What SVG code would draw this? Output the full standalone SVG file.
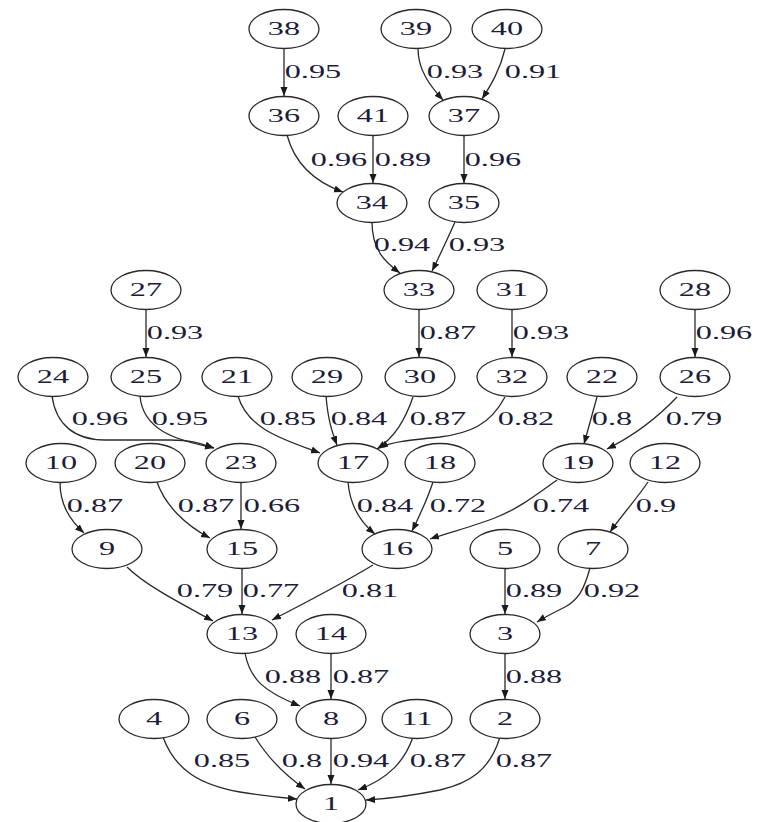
<svg xmlns="http://www.w3.org/2000/svg" width="765" height="822" viewBox="0 0 765 822">
  <style>
    ellipse { fill: #ffffff; stroke: #2a2a2a; stroke-width: 1.3; }
    .edge { fill: none; stroke: #2a2a2a; stroke-width: 1.3; marker-end: url(#arrow); }
    text { font-family: "Liberation Serif", "Times New Roman", serif; font-size: 19px; fill: #1c1c38; text-anchor: middle;
           transform-box: fill-box; transform-origin: center; transform: scaleX(1.7); }
  </style>
  <defs>
    <marker id="arrow" markerUnits="userSpaceOnUse" markerWidth="10" markerHeight="8" refX="9" refY="3.5" orient="auto">
      <path d="M0,0 L9,3.5 L0,7 z" fill="#1a1a1a"/>
    </marker>
  </defs>
  <rect width="765" height="822" fill="#ffffff"/>

  <g id="connectors">
    <!-- rank 0 to 1 -->
    <path class="edge" d="M284,48.5 V96"/>
    <path class="edge" d="M418,48.5 C418,70 430,86 443,100"/>
    <path class="edge" d="M505,49 C500,70 491,85 482,99"/>
    <!-- rank 1 to 2 -->
    <path class="edge" d="M287,135 C295,165 315,182 343,192"/>
    <path class="edge" d="M373,135.5 V183"/>
    <path class="edge" d="M464,135.5 V183"/>
    <!-- rank 2 to 3 -->
    <path class="edge" d="M372,222 C372,250 385,262 400,273"/>
    <path class="edge" d="M455,222 C447,240 440,255 432,271"/>
    <!-- rank 3 to 4 -->
    <path class="edge" d="M146,309.5 V357"/>
    <path class="edge" d="M419,309.5 V357"/>
    <path class="edge" d="M512,309.5 V357"/>
    <path class="edge" d="M695,309.5 V357"/>
    <!-- rank 4 to 5 -->
    <path class="edge" d="M52,396 C56,425 75,440 105,440 L170,440 C190,440 200,443 214,448"/>
    <path class="edge" d="M140,396 C143,430 175,440 214,448"/>
    <path class="edge" d="M238,396 C248,430 285,440 320,453"/>
    <path class="edge" d="M326,396 C328,420 332,432 337,445"/>
    <path class="edge" d="M413,397 C405,420 395,437 377,449"/>
    <path class="edge" d="M505,397 C490,425 470,433 440,437 C410,440 390,442 379,448"/>
    <path class="edge" d="M597,397 C592,415 588,430 584,444"/>
    <path class="edge" d="M677,397 C660,415 635,435 607,449"/>
    <!-- rank 5 to 6 -->
    <path class="edge" d="M60,482 C60,505 70,520 84,533"/>
    <path class="edge" d="M157,482 C165,505 185,525 210,538"/>
    <path class="edge" d="M241,482.5 V529"/>
    <path class="edge" d="M348,482 C350,505 360,522 375,534"/>
    <path class="edge" d="M433,482 C427,500 420,515 412,531"/>
    <path class="edge" d="M557,480 C540,492 520,508 497,517 C475,526 450,532 430,539"/>
    <path class="edge" d="M648,482 C638,497 622,515 610,532"/>
    <!-- rank 6 to 7 -->
    <path class="edge" d="M127,567 C145,585 180,603 213,621"/>
    <path class="edge" d="M242,568.5 V614"/>
    <path class="edge" d="M373,565 C340,585 305,603 272,620"/>
    <path class="edge" d="M505,568.5 V614"/>
    <path class="edge" d="M590,568 C584,590 578,600 565,607 C555,612 545,617 537,622"/>
    <!-- rank 7 to 8 -->
    <path class="edge" d="M245,653 C250,680 265,692 300,706"/>
    <path class="edge" d="M331,653.5 V699"/>
    <path class="edge" d="M505,653.5 V699"/>
    <!-- rank 8 to 9 -->
    <path class="edge" d="M163,737 C175,770 200,785 240,792 C265,796 285,798 297,799"/>
    <path class="edge" d="M255,737 C268,758 285,775 305,789"/>
    <path class="edge" d="M331,738.5 V784"/>
    <path class="edge" d="M413,737 C405,760 390,778 358,790"/>
    <path class="edge" d="M500,737 C490,770 470,783 440,790 C410,796 385,799 366,800"/>

    <!-- edge weights -->
    <text x="313" y="78.5">0.95</text>
    <text x="455" y="78.5">0.93</text>
    <text x="533" y="78.5">0.91</text>
    <text x="339" y="166">0.96</text>
    <text x="403" y="166">0.89</text>
    <text x="493" y="166">0.96</text>
    <text x="402" y="251.5">0.94</text>
    <text x="477" y="251.5">0.93</text>
    <text x="175" y="339">0.93</text>
    <text x="448" y="339">0.87</text>
    <text x="541" y="339">0.93</text>
    <text x="724" y="339">0.96</text>
    <text x="100" y="425.5">0.96</text>
    <text x="180" y="425.5">0.95</text>
    <text x="288" y="425.5">0.85</text>
    <text x="359" y="425.5">0.84</text>
    <text x="438" y="425.5">0.87</text>
    <text x="526" y="425.5">0.82</text>
    <text x="612" y="425.5">0.8</text>
    <text x="694" y="425.5">0.79</text>
    <text x="95" y="512.5">0.87</text>
    <text x="206" y="512.5">0.87</text>
    <text x="272" y="512.5">0.66</text>
    <text x="385" y="512.5">0.84</text>
    <text x="458" y="512.5">0.72</text>
    <text x="561" y="512.5">0.74</text>
    <text x="656" y="512.5">0.9</text>
    <text x="205" y="597.5">0.79</text>
    <text x="271" y="597.5">0.77</text>
    <text x="370" y="597.5">0.81</text>
    <text x="534" y="597.5">0.89</text>
    <text x="612" y="597.5">0.92</text>
    <text x="293" y="683">0.88</text>
    <text x="361" y="683">0.87</text>
    <text x="534" y="683">0.88</text>
    <text x="222" y="767.5">0.85</text>
    <text x="302" y="767.5">0.8</text>
    <text x="361" y="767.5">0.94</text>
    <text x="438" y="767.5">0.87</text>
    <text x="524" y="767.5">0.87</text>
  </g>

  <!-- nodes -->
  <g id="n38"><ellipse cx="284" cy="29" rx="35" ry="19.5"/><text x="284" y="35.5">38</text></g>
  <g id="n39"><ellipse cx="416" cy="29" rx="35" ry="19.5"/><text x="416" y="35.5">39</text></g>
  <g id="n40"><ellipse cx="507" cy="29" rx="35" ry="19.5"/><text x="507" y="35.5">40</text></g>

  <g id="n36"><ellipse cx="284" cy="116" rx="35" ry="19.5"/><text x="284" y="122.5">36</text></g>
  <g id="n41"><ellipse cx="373" cy="116" rx="35" ry="19.5"/><text x="373" y="122.5">41</text></g>
  <g id="n37"><ellipse cx="464" cy="116" rx="35" ry="19.5"/><text x="464" y="122.5">37</text></g>

  <g id="n34"><ellipse cx="372" cy="203" rx="35" ry="19.5"/><text x="372" y="209.5">34</text></g>
  <g id="n35"><ellipse cx="464" cy="203" rx="35" ry="19.5"/><text x="464" y="209.5">35</text></g>

  <g id="n27"><ellipse cx="146" cy="290" rx="35" ry="19.5"/><text x="146" y="296.5">27</text></g>
  <g id="n33"><ellipse cx="419" cy="290" rx="35" ry="19.5"/><text x="419" y="296.5">33</text></g>
  <g id="n31"><ellipse cx="512" cy="290" rx="35" ry="19.5"/><text x="512" y="296.5">31</text></g>
  <g id="n28"><ellipse cx="695" cy="290" rx="35" ry="19.5"/><text x="695" y="296.5">28</text></g>

  <g id="n24"><ellipse cx="53" cy="377" rx="35" ry="19.5"/><text x="53" y="383.5">24</text></g>
  <g id="n25"><ellipse cx="146" cy="377" rx="35" ry="19.5"/><text x="146" y="383.5">25</text></g>
  <g id="n21"><ellipse cx="237" cy="377" rx="35" ry="19.5"/><text x="237" y="383.5">21</text></g>
  <g id="n29"><ellipse cx="327" cy="377" rx="35" ry="19.5"/><text x="327" y="383.5">29</text></g>
  <g id="n30"><ellipse cx="420" cy="377" rx="35" ry="19.5"/><text x="420" y="383.5">30</text></g>
  <g id="n32"><ellipse cx="512" cy="377" rx="35" ry="19.5"/><text x="512" y="383.5">32</text></g>
  <g id="n22"><ellipse cx="602" cy="377" rx="35" ry="19.5"/><text x="602" y="383.5">22</text></g>
  <g id="n26"><ellipse cx="695" cy="377" rx="35" ry="19.5"/><text x="695" y="383.5">26</text></g>

  <g id="n10"><ellipse cx="61" cy="463" rx="35" ry="19.5"/><text x="61" y="469.5">10</text></g>
  <g id="n20"><ellipse cx="150" cy="463" rx="35" ry="19.5"/><text x="150" y="469.5">20</text></g>
  <g id="n23"><ellipse cx="241" cy="463" rx="35" ry="19.5"/><text x="241" y="469.5">23</text></g>
  <g id="n17"><ellipse cx="353" cy="463" rx="35" ry="19.5"/><text x="353" y="469.5">17</text></g>
  <g id="n18"><ellipse cx="440" cy="463" rx="35" ry="19.5"/><text x="440" y="469.5">18</text></g>
  <g id="n19"><ellipse cx="578" cy="463" rx="35" ry="19.5"/><text x="578" y="469.5">19</text></g>
  <g id="n12"><ellipse cx="665" cy="463" rx="35" ry="19.5"/><text x="665" y="469.5">12</text></g>

  <g id="n9"><ellipse cx="107" cy="549" rx="35" ry="19.5"/><text x="107" y="555.5">9</text></g>
  <g id="n15"><ellipse cx="242" cy="549" rx="35" ry="19.5"/><text x="242" y="555.5">15</text></g>
  <g id="n16"><ellipse cx="397" cy="549" rx="35" ry="19.5"/><text x="397" y="555.5">16</text></g>
  <g id="n5"><ellipse cx="505" cy="549" rx="35" ry="19.5"/><text x="505" y="555.5">5</text></g>
  <g id="n7"><ellipse cx="593" cy="549" rx="35" ry="19.5"/><text x="593" y="555.5">7</text></g>

  <g id="n13"><ellipse cx="242" cy="634" rx="35" ry="19.5"/><text x="242" y="640.5">13</text></g>
  <g id="n14"><ellipse cx="331" cy="634" rx="35" ry="19.5"/><text x="331" y="640.5">14</text></g>
  <g id="n3"><ellipse cx="505" cy="634" rx="35" ry="19.5"/><text x="505" y="640.5">3</text></g>

  <g id="n4"><ellipse cx="154" cy="719" rx="35" ry="19.5"/><text x="154" y="725.5">4</text></g>
  <g id="n6"><ellipse cx="242" cy="719" rx="35" ry="19.5"/><text x="242" y="725.5">6</text></g>
  <g id="n8"><ellipse cx="331" cy="719" rx="35" ry="19.5"/><text x="331" y="725.5">8</text></g>
  <g id="n11"><ellipse cx="417" cy="719" rx="35" ry="19.5"/><text x="417" y="725.5">11</text></g>
  <g id="n2"><ellipse cx="505" cy="719" rx="35" ry="19.5"/><text x="505" y="725.5">2</text></g>

  <g id="n1"><ellipse cx="331" cy="804" rx="35" ry="19.5"/><text x="331" y="810.5">1</text></g>
</svg>
